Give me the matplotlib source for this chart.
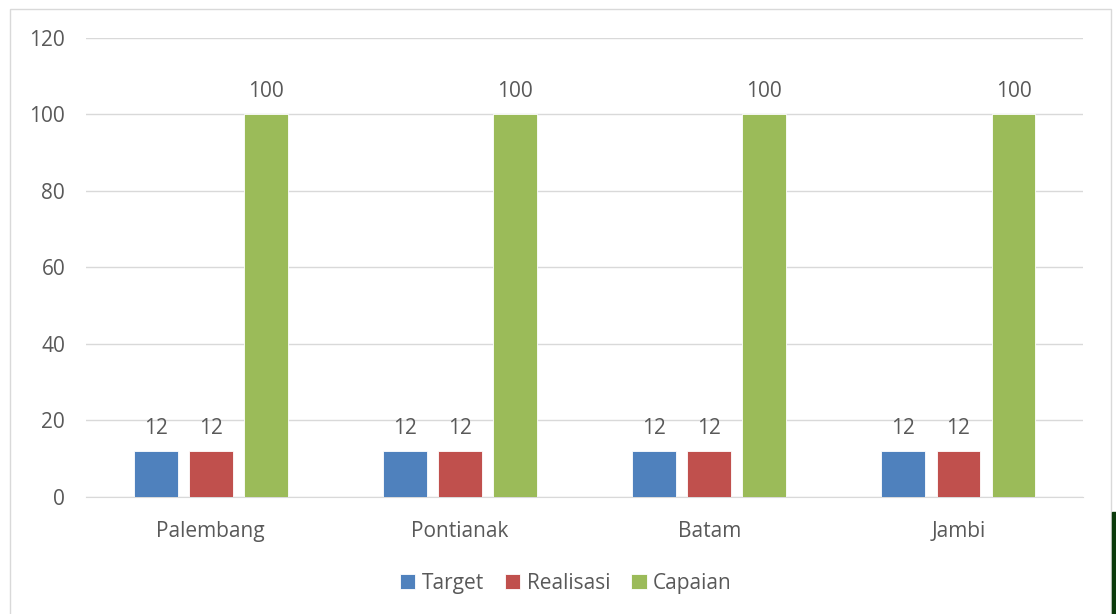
import numpy as np
import matplotlib.pyplot as plt
from matplotlib.patches import Rectangle

cities = ['Palembang', 'Pontianak', 'Batam', 'Jambi']
target = [12, 12, 12, 12]
realisasi = [12, 12, 12, 12]
capaian = [100, 100, 100, 100]

series = [('Target', target, '#4F81BD'),
          ('Realisasi', realisasi, '#C0504D'),
          ('Capaian', capaian, '#9BBB59')]

plt.rcParams['font.family'] = ['Open Sans', 'DejaVu Sans']
txt = '#595959'

fig = plt.figure(figsize=(11.16, 6.14), dpi=100)
ax = fig.add_axes([0.0771, 0.1906, 0.8934, 0.7476])

x = np.arange(len(cities))
w = 0.176
step = 0.221
for i, (name, vals, col) in enumerate(series):
    bars = ax.bar(x + (i - 1) * step, vals, w, color=col, label=name,
                  edgecolor='white', linewidth=0.6, zorder=3)
    ax.bar_label(bars, padding=9, fontsize=15, color=txt)

ax.set_xlim(-0.5, len(cities) - 0.5)
ax.set_ylim(0, 120)
ax.set_yticks(range(0, 121, 20))
ax.set_xticks(x)
ax.set_xticklabels(cities)
ax.tick_params(length=0, labelsize=15, labelcolor=txt)
ax.tick_params(axis='x', pad=17)
ax.tick_params(axis='y', pad=15)
ax.grid(axis='y', color='#D9D9D9', linewidth=1, zorder=0)
for s in ['top', 'right', 'left']:
    ax.spines[s].set_visible(False)
ax.spines['bottom'].set_color('#D9D9D9')

ax.legend(loc='upper center', bbox_to_anchor=(0.481, -0.125), ncol=3,
          frameon=False, fontsize=15, labelcolor=txt, handlelength=0.75,
          handleheight=0.75, handletextpad=0.3, columnspacing=1.0)

fig.patches.append(Rectangle((10 / 1116, -0.01), 1101 / 1116, 1 - 9 / 614 + 0.01,
                             transform=fig.transFigure, fill=False,
                             edgecolor='#D9D9D9', linewidth=1))
fig.patches.append(Rectangle((1112 / 1116, 0), 4 / 1116, 102 / 614,
                             transform=fig.transFigure, color='#0B3A0B'))

fig.savefig('out.png', dpi=100)
